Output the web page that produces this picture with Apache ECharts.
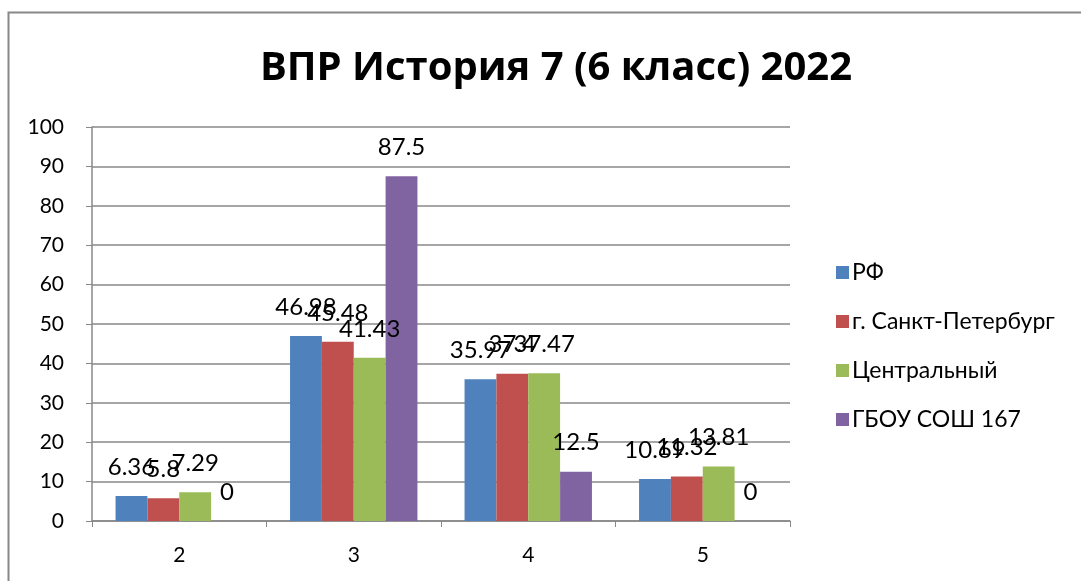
<!DOCTYPE html>
<html>
<head>
<meta charset="utf-8">
<script src="https://cdn.jsdelivr.net/npm/echarts@6/dist/echarts.min.js"></script>
<style>
  html, body { margin: 0; padding: 0; background: #fff; }
  #container { width: 1081px; height: 581px; }
</style>
</head>
<body>
<div id="container"></div>
<script>
var dom = document.getElementById("container");
var myChart = echarts.init(dom);

// grades on the x axis
var grades = ["2", "3", "4", "5"];
var seriesNames = ["РФ", "г. Санкт-Петербург", "Центральный", "ГБОУ СОШ 167"];
var rf = [6.36, 46.98, 35.97, 10.69];
var spb = [5.8, 45.48, 37.4, 11.32];
var central = [7.29, 41.43, 37.47, 13.81];
var school = [0, 87.5, 12.5, 0];
var colors = ["#4F81BD", "#C0504D", "#9BBB59", "#8064A2"];

var fontName = "Lato, 'Open Sans', sans-serif";

function makeSeries(name, values, color) {
  return {
    name: name,
    type: "bar",
    data: values,
    barGap: "0%",
    barCategoryGap: "27%",
    itemStyle: { color: color },
    label: {
      show: true,
      position: "top",
      distance: 17,
      color: "#000",
      fontSize: 24,
      fontFamily: fontName
    }
  };
}

var option = {
  animation: false,
  title: {
    text: "ВПР История 7 (6 класс) 2022",
    left: 551,
    textAlign: "center",
    top: 44,
    textStyle: { fontSize: 40, fontWeight: "bold", color: "#000", fontFamily: "'Open Sans', sans-serif" }
  },
  graphic: [
    {
      type: "rect",
      shape: { x: 8.5, y: 12.5, width: 1200, height: 700 },
      style: { fill: "none", stroke: "#888", lineWidth: 2 }
    }
  ],
  legend: {
    orient: "vertical",
    left: 831,
    top: 256,
    itemWidth: 13,
    itemHeight: 13,
    itemGap: 26,
    icon: "rect",
    data: seriesNames,
    textStyle: { fontSize: 23, color: "#000", fontFamily: fontName, padding: [0, 0, 0, -2] }
  },
  grid: { left: 92, right: 291, top: 127, bottom: 60 },
  xAxis: {
    type: "category",
    data: grades,
    axisLine: { lineStyle: { color: "#888", width: 1.5 } },
    axisTick: { show: true, length: 6, lineStyle: { color: "#888" } },
    axisLabel: { color: "#000", fontSize: 21, fontFamily: fontName, margin: 24 }
  },
  yAxis: {
    type: "value",
    min: 0,
    max: 100,
    interval: 10,
    axisLine: { show: true, lineStyle: { color: "#888", width: 1.5 } },
    axisTick: { show: true, length: 6, lineStyle: { color: "#888" } },
    axisLabel: { color: "#000", fontSize: 21, fontFamily: fontName, margin: 28 },
    splitLine: { lineStyle: { color: "#888", width: 1.5 } }
  },
  series: [
    makeSeries(seriesNames[0], rf, colors[0]),
    makeSeries(seriesNames[1], spb, colors[1]),
    makeSeries(seriesNames[2], central, colors[2]),
    makeSeries(seriesNames[3], school, colors[3])
  ]
};

myChart.setOption(option, true);
</script>
</body>
</html>
